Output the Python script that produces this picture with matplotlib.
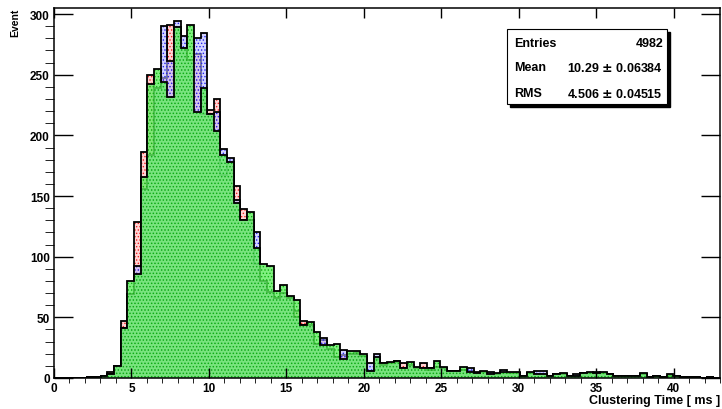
import numpy as np
import matplotlib.pyplot as plt
from matplotlib.patches import Rectangle
from matplotlib.ticker import MultipleLocator

plt.rcParams['font.family'] = ['Liberation Sans', 'DejaVu Sans']
plt.rcParams['font.weight'] = 'bold'
plt.rcParams['hatch.linewidth'] = 0.6

# 100 bins from 0 to 43 ms
bin_edges = np.linspace(0, 43, 101)

green_counts = [
    0, 0, 0, 0, 0, 1, 1, 2, 3, 10,
    41, 80, 86, 166, 242, 255, 244, 232, 289, 272,
    291, 219, 239, 218, 204, 184, 178, 144, 130, 137,
    107, 94, 92, 72, 77, 68, 64, 44, 46, 38,
    27, 27, 28, 16, 22, 22, 20, 6, 17, 12,
    13, 14, 8, 13, 9, 8, 8, 14, 9, 6,
    6, 9, 5, 4, 6, 3, 4, 5, 5, 5,
    2, 5, 3, 3, 2, 3, 4, 2, 2, 4,
    5, 4, 5, 3, 2, 2, 2, 2, 4, 1,
    2, 1, 3, 2, 1, 1, 1, 0, 1, 0,
]

red_counts = [
    0, 0, 0, 0, 0, 1, 1, 2, 5, 10,
    47, 69, 129, 186, 250, 239, 247, 291, 289, 272,
    262, 267, 218, 221, 230, 167, 178, 158, 139, 130,
    94, 80, 71, 66, 70, 66, 55, 47, 44, 28,
    31, 24, 17, 19, 20, 21, 18, 6, 16, 12,
    12, 14, 12, 11, 8, 12, 8, 9, 8, 6,
    6, 7, 6, 5, 5, 4, 3, 4, 4, 4,
    2, 4, 3, 3, 2, 3, 3, 2, 2, 4,
    4, 5, 4, 3, 2, 2, 2, 2, 3, 1,
    2, 1, 2, 2, 1, 1, 1, 0, 1, 0,
]

blue_counts = [
    0, 0, 0, 0, 0, 1, 1, 2, 3, 10,
    41, 69, 92, 156, 184, 239, 290, 261, 294, 282,
    262, 280, 284, 218, 219, 189, 181, 147, 130, 130,
    120, 80, 71, 66, 70, 66, 50, 44, 44, 28,
    33, 24, 17, 23, 20, 20, 18, 12, 20, 11,
    12, 13, 8, 11, 8, 8, 7, 9, 8, 6,
    6, 7, 8, 4, 5, 5, 3, 7, 4, 4,
    2, 4, 6, 6, 2, 3, 3, 2, 3, 4,
    4, 4, 4, 3, 2, 2, 2, 2, 3, 1,
    2, 1, 2, 2, 1, 1, 1, 0, 1, 0,
]

stats_labels = ['Entries', 'Mean', 'RMS']
stats_values = ['4982', '10.29 $\\pm$ 0.06384', '4.506 $\\pm$ 0.04515']

fig = plt.figure(figsize=(7.22, 4.10), dpi=100)
ax = fig.add_axes([54 / 722, 1 - 379 / 410, (720 - 54) / 722, (379 - 9) / 410])

hists = [
    (red_counts, (1.0, 0.72, 0.72, 0.6), '#ee2222'),
    (blue_counts, (0.72, 0.72, 1.0, 0.6), '#2222ee'),
    (green_counts, (0.38, 0.93, 0.38, 0.8), '#10b010'),
]
for counts, face, dots in hists:
    ax.stairs(counts, bin_edges, fill=True, facecolor=face, edgecolor=dots,
              hatch='.....', linewidth=0)
    ax.stairs(counts, bin_edges, color='black', linewidth=1.3)

ax.set_xlim(0, 43)
ax.set_ylim(0, 305)
ax.xaxis.set_major_locator(MultipleLocator(5))
ax.xaxis.set_minor_locator(MultipleLocator(1))
ax.yaxis.set_major_locator(MultipleLocator(50))
ax.yaxis.set_minor_locator(MultipleLocator(10))
ax.tick_params(direction='in', top=True, right=True, labelsize=8.5, width=1.0)
ax.tick_params(axis='x', which='major', length=7.5, pad=3)
ax.tick_params(axis='x', which='minor', length=3.8)
ax.tick_params(axis='y', which='major', length=13.5, pad=3)
ax.tick_params(axis='y', which='minor', length=6.5)
for s in ax.spines.values():
    s.set_linewidth(1.1)

ax.set_xlabel('Clustering Time [ ms ]', fontsize=9, fontweight='bold', loc='right', labelpad=0)
ax.set_ylabel('Event', fontsize=7.5, fontweight='bold', loc='top', labelpad=7)

# stats box
bx0, by0, bw, bh = 507 / 722, 1 - 105 / 410, 160 / 722, 75 / 410
fig.add_artist(Rectangle((bx0 + 3 / 722, by0 - 3 / 410), bw, bh, transform=fig.transFigure,
                         facecolor='black', edgecolor='black'))
fig.add_artist(Rectangle((bx0, by0), bw, bh, transform=fig.transFigure,
                         facecolor='white', edgecolor='black', linewidth=0.8))
row_y = [44, 68, 94]
for lab, val, y in zip(stats_labels, stats_values, row_y):
    fig.text(514 / 722, 1 - y / 410, lab, fontsize=9, fontweight='bold', va='center', ha='left')
    fig.text(663 / 722, 1 - y / 410, val, fontsize=9, fontweight='bold', va='center', ha='right')

plt.savefig('out.png', dpi=100)
